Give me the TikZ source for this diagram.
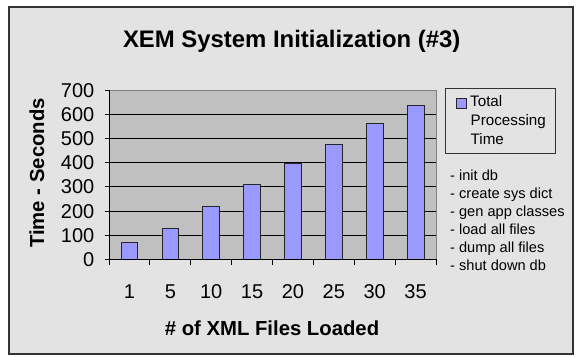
\documentclass[tikz,border=0pt]{standalone}
\usepackage{fontspec}
\setmainfont{Liberation Sans}
\definecolor{bgray}{HTML}{E3E3E3}
\definecolor{pgray}{HTML}{C0C0C0}
\definecolor{barblue}{HTML}{9999FF}
\definecolor{framec}{HTML}{333333}
\tikzset{
  framebox/.style={fill=bgray, draw=framec, line width=1.6pt},
  plotarea/.style={fill=pgray, draw=gray, line width=0.7pt},
  gridl/.style={draw=black, line width=0.7pt},
  axisl/.style={draw=black, line width=0.8pt},
  barbox/.style={fill=barblue, draw=black!85, line width=0.8pt},
  ticklab/.style={inner sep=0pt, font=\fontsize{20}{24}\selectfont},
  axtitle/.style={inner sep=0pt, font=\fontsize{20.3}{24}\selectfont\bfseries},
  legtext/.style={inner sep=0pt, anchor=base west, font=\fontsize{15.2}{18}\selectfont},
  notetext/.style={inner sep=0pt, anchor=base west, font=\fontsize{14.6}{17}\selectfont},
}
\begin{document}
\begin{tikzpicture}[x=1pt,y=-1pt]
\useasboundingbox (0,0) rectangle (578,356);
\fill[white] (0,0) rectangle (578,356);
\draw[framebox] (8.8,7.2) rectangle (573.2,353.8);
% title
\node[inner sep=0pt, anchor=base, font=\fontsize{23.9}{28}\selectfont\bfseries] (title) at (291.7,47.7) {XEM System Initialization (\#3)};
% plot area
\draw[plotarea] (109,90) rectangle (436,259.4);
\foreach \k in {1,...,6} {
  \draw[gridl] (109,{259.4-24.2*\k}) -- (436,{259.4-24.2*\k});
}
% y ticks and labels
\foreach \k in {0,...,7} {
  \draw[axisl] (105,{259.4-24.2*\k}) -- (109,{259.4-24.2*\k});
  \pgfmathtruncatemacro{\v}{100*\k}
  \node[ticklab, anchor=east] (yl\k) at (94.5,{259.4-24.2*\k+0.3}) {\v};
}
% bars
\foreach \val [count=\i from 0] in {69,130,218,310,397,477,564,638} {
  \pgfmathsetmacro{\c}{129.45+40.875*\i}
  \draw[barbox] ({\c-8.35},259.4) rectangle ({\c+8.35},{259.4-0.242*\val});
}
% axes
\draw[axisl] (109,90) -- (109,259.4) -- (436,259.4);
\foreach \i in {0,...,8} {
  \draw[axisl] ({109+40.875*\i},259.4) -- ({109+40.875*\i},264.5);
}
% x labels
\foreach \lab [count=\i from 0] in {1,5,10,15,20,25,30,35} {
  \node[ticklab, anchor=base] (xl\i) at ({129.45+40.875*\i},298.3) {\lab};
}
% axis titles
\node[axtitle, anchor=base] (xtitle) at (272,335) {\# of XML Files Loaded};
\node[axtitle, anchor=base, rotate=90] (ytitle) at (44,173) {Time - Seconds};
% legend
\draw[fill=bgray, draw=black!80, line width=0.7pt] (445.7,88.3) rectangle (555,153.3);
\draw[barbox, line width=0.7pt] (456.7,98.3) rectangle (466.7,108.3);
\node[legtext] (lg1) at (470,106.7) {Total};
\node[legtext] (lg2) at (470.5,125.3) {Processing};
\node[legtext] (lg3) at (470.5,144) {Time};
% notes
\foreach \t [count=\i from 0] in {- init db,- create sys dict,- gen app classes,- load all files,- dump all files,- shut down db} {
  \node[notetext] (n\i) at (450,{180+18.14*\i}) {\t};
}
\end{tikzpicture}
\end{document}
